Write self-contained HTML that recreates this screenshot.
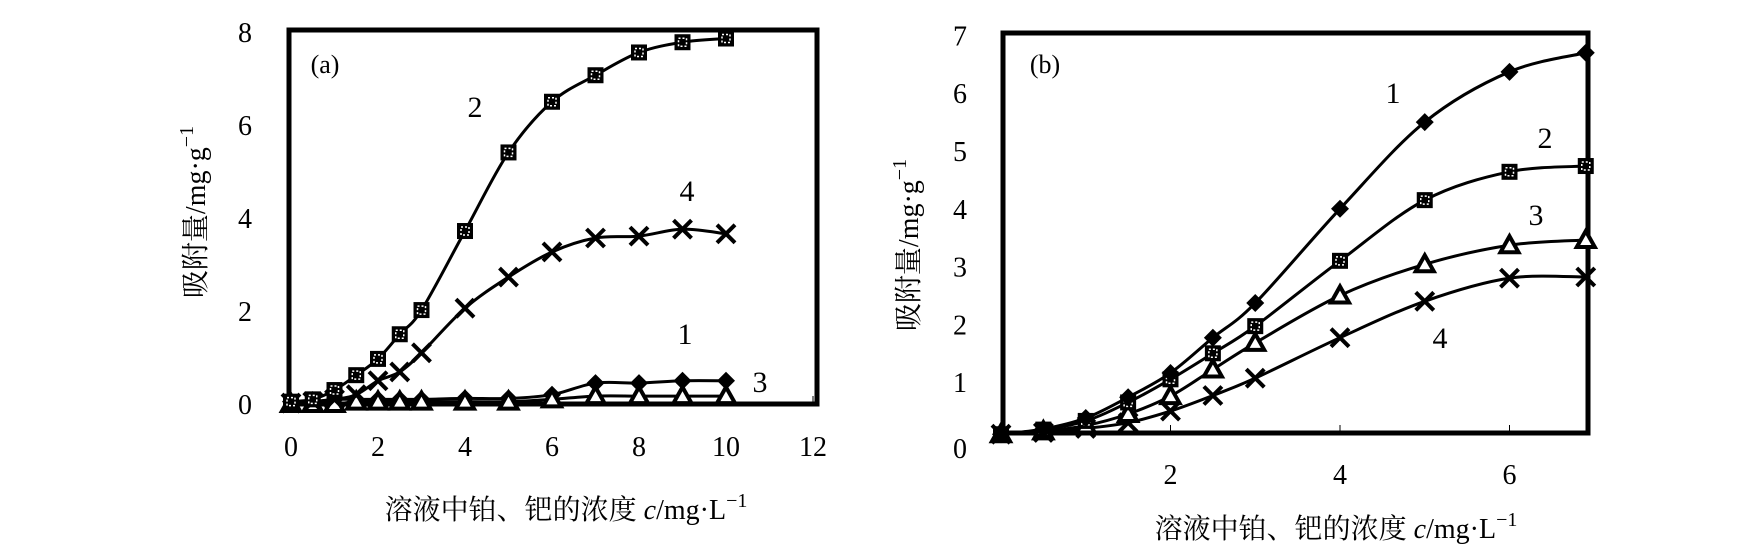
<!DOCTYPE html>
<html><head><meta charset="utf-8"><style>
html,body{margin:0;padding:0;background:#fff;}
svg{display:block;}
text{font-family:"Liberation Serif","Noto Serif CJK SC",serif;fill:#000;}
</style></head><body>
<svg id="chart" width="1737" height="549" viewBox="0 0 1737 549" xmlns="http://www.w3.org/2000/svg"></svg>
<script>
// ---- Chart (a) data ----
const aX = [0,0.5,1,1.5,2,2.5,3,4,5,6,7,8,9,10];
const aS1 = [0.05,0.05,0.1,0.1,0.1,0.1,0.1,0.12,0.12,0.2,0.45,0.45,0.5,0.5];
const aS2 = [0.05,0.1,0.3,0.62,0.97,1.5,2.02,3.72,5.41,6.5,7.07,7.56,7.78,7.86];
const aS3 = [0,0,0,0.05,0.05,0.05,0.05,0.05,0.05,0.1,0.17,0.17,0.17,0.17];
const aS4 = [0.02,0.05,0.1,0.2,0.5,0.69,1.1,2.06,2.73,3.27,3.57,3.61,3.76,3.66];
const aXTicks = [0,2,4,6,8,10,12];
const aYTicks = [0,2,4,6,8];
// ---- Chart (b) data ----
const bX = [0,0.5,1,1.5,2,2.5,3,4,5,6,6.9];
const bS1 = [0.1,0.19,0.38,0.74,1.16,1.77,2.37,4.0,5.5,6.37,6.7];
const bS2 = [0.1,0.18,0.33,0.65,1.05,1.5,1.97,3.1,4.15,4.64,4.74];
const bS3 = [0.1,0.15,0.25,0.45,0.76,1.22,1.68,2.5,3.04,3.37,3.46];
const bS4 = [0.1,0.13,0.2,0.3,0.5,0.77,1.07,1.77,2.4,2.8,2.82];
const bXTicks = [2,4,6];
const bYTicks = [0,1,2,3,4,5,6,7];

const NS = "http://www.w3.org/2000/svg";
const svg = document.getElementById('chart');
function mk(tag, attrs, parent){
  const e = document.createElementNS(NS, tag);
  for (const k in attrs) e.setAttribute(k, attrs[k]);
  (parent||svg).appendChild(e);
  return e;
}
function smoothPath(pts){
  let d = `M${pts[0][0]},${pts[0][1]}`;
  for (let i=0;i<pts.length-1;i++){
    const p0=pts[i-1]||pts[i], p1=pts[i], p2=pts[i+1], p3=pts[i+2]||p2;
    const c1=[p1[0]+(p2[0]-p0[0])/6, p1[1]+(p2[1]-p0[1])/6];
    const c2=[p2[0]-(p3[0]-p1[0])/6, p2[1]-(p3[1]-p1[1])/6];
    d += ` C${c1[0]},${c1[1]} ${c2[0]},${c2[1]} ${p2[0]},${p2[1]}`;
  }
  return d;
}
function marker(g, type, x, y){
  let m;
  if (type==='diamond'){
    m = mk('polygon',{points:`${x},${y-9} ${x+9},${y} ${x},${y+9} ${x-9},${y}`,fill:'#000'},g);
  } else if (type==='square'){
    m = mk('rect',{x:x-8,y:y-8,width:16,height:16,fill:'#000'},g);
    const d = mk('rect',{x:x-4,y:y-4,width:8,height:8,fill:'none',stroke:'#fff','stroke-width':1.5,'stroke-dasharray':'2 2'},g);
    
    
  } else if (type==='triangle'){
    m = mk('polygon',{points:`${x},${y-9} ${x+9},${y+7} ${x-9},${y+7}`,fill:'#fff',stroke:'#000','stroke-width':4},g);
  } else {
    m = mk('path',{d:`M${x-9},${y-9} L${x+9},${y+9} M${x+9},${y-9} L${x-9},${y+9}`,stroke:'#000','stroke-width':4},g);
  }
  
  
}
function drawChart(cfg){
  const g = mk('g',{});
  
  
  const sx = v => cfg.x0 + v*cfg.xu;
  const sy = v => cfg.y0 - v*cfg.yu;
  const frame = mk('rect',{x:cfg.L,y:cfg.T,width:cfg.R-cfg.L,height:cfg.B-cfg.T,fill:'none',stroke:'#000','stroke-width':5},g);
  
  
  cfg.xTicks.forEach(t=>{
    const tk = mk('line',{x1:sx(t),x2:sx(t),y1:cfg.B,y2:cfg.B-8,stroke:'#000','stroke-width':1},g);
    
    
    const lb = mk('text',{x:sx(t),y:cfg.xLabY,'font-size':28,'text-anchor':'middle'},g);
    lb.textContent = t;
    
    
  });
  cfg.yTicks.forEach(t=>{
    const lb = mk('text',{x:cfg.yLabX,y:sy(t)+10+(cfg.yLabShift?cfg.yLabShift(t):0),'font-size':28,'text-anchor':'middle'},g);
    lb.textContent = t;
    
    
  });
  cfg.series.forEach((s,i)=>{
    const pts = cfg.xs.map((x,j)=>[sx(x), sy(s.v[j])]);
    const p = mk('path',{d:smoothPath(pts),fill:'none',stroke:'#000','stroke-width':3},g);
    
    
    pts.forEach(pt=>marker(g, s.m, pt[0], pt[1]));
  });
  cfg.labels.forEach(l=>{
    const t = mk('text',{x:l[1],y:l[2],'font-size':l[3]||30,'text-anchor':'middle'},g);
    t.textContent = l[0];
    
    
  });
  const yt = mk('text',{x:0,y:0,'font-size':28,'text-anchor':'middle',transform:`translate(${cfg.yTitle[0]},${cfg.yTitle[1]}) rotate(-90)`},g);
  yt.innerHTML = '吸附量/mg·g<tspan dy="-12" font-size="20">−1</tspan>';
  
  
  const xt = mk('text',{x:cfg.xTitle[0],y:cfg.xTitle[1],'font-size':28,'text-anchor':'middle'},g);
  xt.innerHTML = '溶液中铂、钯的浓度 <tspan font-style="italic">c</tspan>/mg·L<tspan dy="-12" font-size="20">−1</tspan>';
  
  
}
drawChart({name:'chart-a',L:289,R:817,T:30,B:404,x0:291,xu:43.5,y0:404,yu:46.5,
  xTicks:aXTicks,yTicks:aYTicks,xLabY:456,yLabX:245,xs:aX,
  series:[{id:1,m:'diamond',v:aS1},{id:3,m:'triangle',v:aS3},{id:4,m:'cross',v:aS4},{id:2,m:'square',v:aS2}],
  labels:[['(a)',325,73,26,'panel-label-a'],['2',475,117,30,'curve-label-2'],['4',687,201,30,'curve-label-4'],['1',685,344,30,'curve-label-1'],['3',760,392,30,'curve-label-3']],
  yTitle:[205,212],xTitle:[566,519]});
drawChart({name:'chart-b',L:1003,R:1588,T:33,B:433,x0:1001,xu:84.75,y0:440,yu:57.8,
  xTicks:bXTicks,yTicks:bYTicks,xLabY:484,yLabX:960,xs:bX,
  yLabShift:t=>t===0?8:0,
  series:[{id:4,m:'cross',v:bS4},{id:3,m:'triangle',v:bS3},{id:2,m:'square',v:bS2},{id:1,m:'diamond',v:bS1}],
  labels:[['(b)',1045,73,26,'panel-label-b'],['1',1393,103,30,'curve-label-1'],['2',1545,148,30,'curve-label-2'],['3',1536,225,30,'curve-label-3'],['4',1440,348,30,'curve-label-4']],
  yTitle:[918,245],xTitle:[1336,538]});
</script>
</body></html>
